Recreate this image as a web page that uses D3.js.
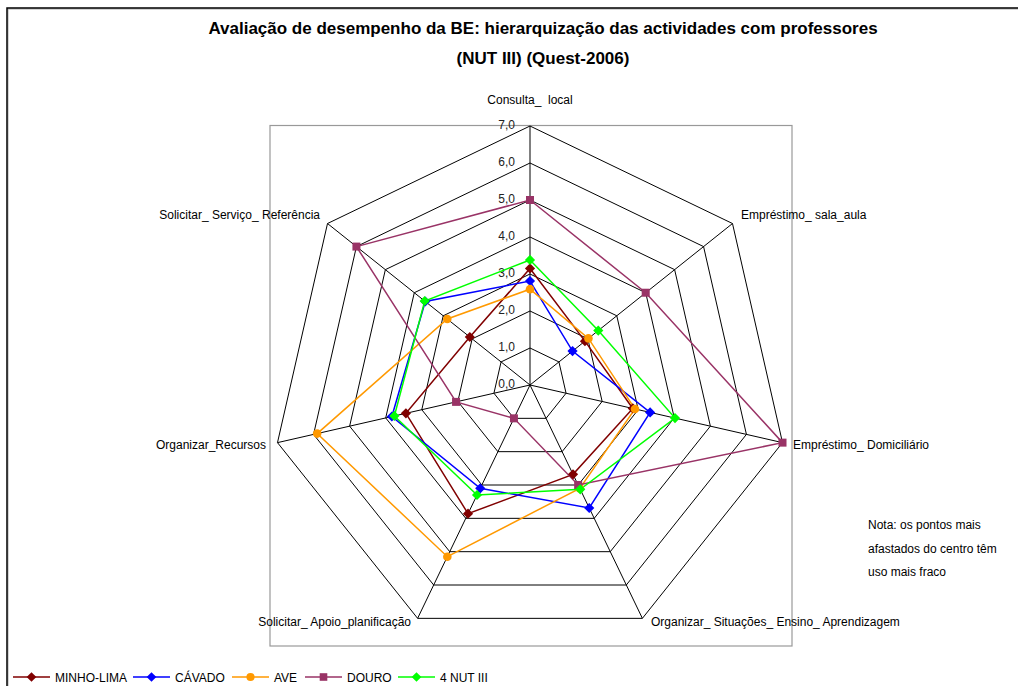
<!DOCTYPE html>
<html>
<head>
<meta charset="utf-8">
<script src="https://cdn.jsdelivr.net/npm/d3@7"></script>
<style>
  body { margin: 0; background: #fff; }
  text { font-family: "Liberation Sans", Arial, sans-serif; fill: #000; }
</style>
</head>
<body>
<div id="chart"></div>
<script>
// axes of the radar, clockwise from the top
var axes = [
  "Consulta_  local",
  "Empréstimo_ sala_aula",
  "Empréstimo_ Domiciliário",
  "Organizar_ Situações_ Ensino_ Aprendizagem",
  "Solicitar_ Apoio_planificação",
  "Organizar_Recursos",
  "Solicitar_ Serviço_ Referência"
];

var seriesNames = ["MINHO-LIMA", "CÁVADO", "AVE", "DOURO", "4 NUT III"];

var minhoLima = [3.15, 1.9, 2.85, 2.68, 3.86, 3.44, 2.08];
var cavado    = [2.81, 1.47, 3.33, 3.69, 3.1, 3.83, 3.62];
var ave       = [2.59, 2.02, 2.91, 3.1, 5.15, 5.9, 2.86];
var douro     = [5.0, 4.0, 7.0, 3.0, 1.0, 2.05, 6.0];
var nut3      = [3.38, 2.36, 4.02, 3.13, 3.3, 3.76, 3.64];

var tickValues = [0, 1, 2, 3, 4, 5, 6, 7];

var seriesValues = [minhoLima, cavado, ave, douro, nut3];
var colors = ["#800000", "#0000ff", "#ff9900", "#993366", "#00ff00"];
var shapes = ["diamond", "diamond", "circle", "square", "diamond"];

var svgWidth = 1018;
var svgHeight = 686;

var cx = 530, cy = 385, radius = 259;

var svg = d3.select("#chart")
  .append("svg")
  .attr("width", svgWidth)
  .attr("height", svgHeight);

// outer chart border
svg.append("rect")
  .attr("x", 8).attr("y", 9)
  .attr("width", 1030).attr("height", 700)
  .attr("fill", "none")
  .attr("stroke", "#aaa")
  .attr("stroke-width", 1);
svg.append("rect")
  .attr("x", 7).attr("y", 8)
  .attr("width", 1030).attr("height", 700)
  .attr("fill", "none")
  .attr("stroke", "#000")
  .attr("stroke-width", 1.5);

// title
svg.append("text")
  .attr("x", 543).attr("y", 34)
  .attr("text-anchor", "middle")
  .style("font-weight", "bold")
  .style("font-size", "17px")
  .text("Avaliação de desempenho da BE: hierarquização das actividades com professores");
svg.append("text")
  .attr("x", 543).attr("y", 64)
  .attr("text-anchor", "middle")
  .style("font-weight", "bold")
  .style("font-size", "17px")
  .text("(NUT III) (Quest-2006)");

// plot area box
svg.append("rect")
  .attr("x", 270).attr("y", 125.5)
  .attr("width", 522).attr("height", 520.5)
  .attr("fill", "none")
  .attr("stroke", "#999")
  .attr("stroke-width", 1.2);

var rScale = d3.scaleLinear().domain([0, 7]).range([0, radius]);
var angle = d3.scaleLinear().domain([0, axes.length]).range([0, 2 * Math.PI]);

function pt(i, v) {
  var a = angle(i);
  return [cx + rScale(v) * Math.sin(a), cy - rScale(v) * Math.cos(a)];
}

// marker drawing: diamond = square turned 45deg
function addMarker(sel, shape, color, scale) {
  if (shape === "circle") {
    sel.append("circle").attr("r", 4.3 * scale).attr("fill", color);
  } else if (shape === "square") {
    sel.append("rect")
      .attr("x", -4 * scale).attr("y", -4 * scale)
      .attr("width", 8 * scale).attr("height", 8 * scale)
      .attr("fill", color);
  } else {
    sel.append("rect")
      .attr("x", -3.6 * scale).attr("y", -3.6 * scale)
      .attr("width", 7.2 * scale).attr("height", 7.2 * scale)
      .attr("transform", "rotate(45)")
      .attr("fill", color);
  }
}

var chartGroup = svg.append("g");

// grid heptagons
tickValues.slice(1).forEach(function(t) {
  chartGroup.append("polygon")
    .attr("points", axes.map(function(d, i) { return pt(i, t).join(","); }).join(" "))
    .attr("fill", "none")
    .attr("stroke", "#000")
    .attr("stroke-width", 1);
});

// spokes
axes.forEach(function(d, i) {
  var p = pt(i, 7);
  chartGroup.append("line")
    .attr("x1", cx).attr("y1", cy)
    .attr("x2", p[0]).attr("y2", p[1])
    .attr("stroke", "#000")
    .attr("stroke-width", 1);
});

// tick labels
var fmt = function(v) { return d3.format(".1f")(v).replace(".", ","); };
chartGroup.selectAll(".tick-label")
  .data(tickValues)
  .enter()
  .append("text")
  .attr("class", "tick-label")
  .attr("x", 515)
  .attr("y", function(d) { return cy - rScale(d) + 3; })
  .attr("text-anchor", "end")
  .style("font-size", "12px")
  .style("fill", "#222")
  .text(fmt);

// axis labels
var labelPos = [
  {x: 530, y: 104, anchor: "middle"},
  {x: 741, y: 219, anchor: "start"},
  {x: 793, y: 449, anchor: "start"},
  {x: 651, y: 626, anchor: "start"},
  {x: 411, y: 626, anchor: "end"},
  {x: 266, y: 449, anchor: "end"},
  {x: 320, y: 219, anchor: "end"}
];
axes.forEach(function(d, i) {
  chartGroup.append("text")
    .attr("x", labelPos[i].x).attr("y", labelPos[i].y)
    .attr("text-anchor", labelPos[i].anchor)
    .style("font-size", "12px")
    .style("white-space", "pre")
    .attr("xml:space", "preserve")
    .text(d);
});

// series
var line = d3.line().curve(d3.curveLinearClosed);
seriesValues.forEach(function(vals, s) {
  var pts = vals.map(function(v, i) { return pt(i, v); });
  chartGroup.append("path")
    .attr("d", line(pts))
    .attr("fill", "none")
    .attr("stroke", colors[s])
    .attr("stroke-width", 1.5);
});
seriesValues.forEach(function(vals, s) {
  vals.forEach(function(v, i) {
    var g = chartGroup.append("g").attr("transform", "translate(" + pt(i, v) + ")");
    addMarker(g, shapes[s], colors[s], 1);
  });
});

// note
["Nota: os pontos mais", "afastados do centro têm", "uso mais fraco"].forEach(function(t, i) {
  svg.append("text")
    .attr("x", 868).attr("y", 529 + i * 23.5)
    .style("font-size", "12px")
    .text(t);
});

// legend
var legendX = [13, 133, 232, 305, 398];
var legend = svg.append("g");
seriesNames.forEach(function(name, s) {
  var g = legend.append("g").attr("transform", "translate(" + legendX[s] + ",677)");
  g.append("line")
    .attr("x1", 0).attr("x2", 37)
    .attr("stroke", colors[s])
    .attr("stroke-width", 1.5);
  var m = g.append("g").attr("transform", "translate(18.5,0)");
  addMarker(m, shapes[s], colors[s], 0.95);
  g.append("text")
    .attr("x", 42).attr("y", 4.5)
    .style("font-size", "12px")
    .text(name);
});
</script>
</body>
</html>
